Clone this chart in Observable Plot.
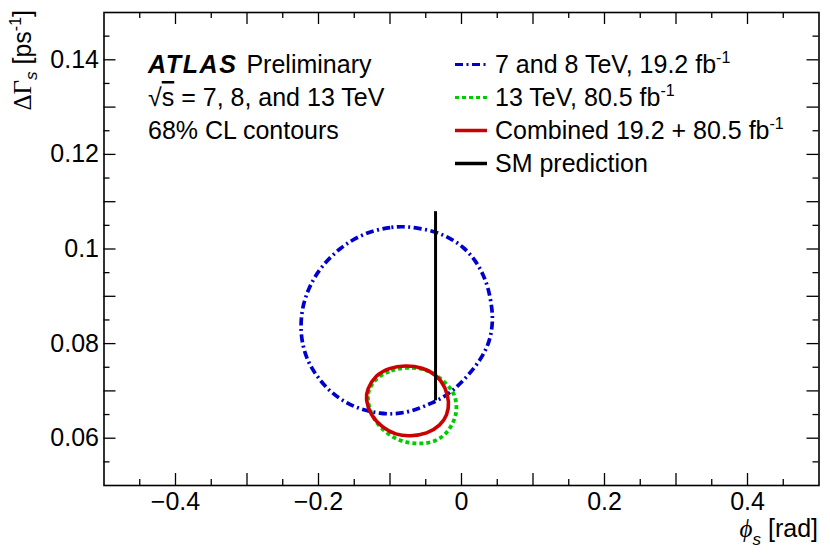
<!DOCTYPE html>
<html>
<head>
<meta charset="utf-8">
<script src="https://cdn.jsdelivr.net/npm/d3@7"></script>
<script src="https://cdn.jsdelivr.net/npm/@observablehq/plot@0.6"></script>
<style>
  body { margin: 0; background: white; }
  #wrap { position: relative; width: 830px; height: 555px; }
  #ann { position: absolute; left: 0; top: 0; pointer-events: none; }
</style>
</head>
<body>
<div id="wrap">
  <div id="chart"></div>
  <svg id="ann" width="830" height="555" font-family="'Liberation Sans', Arial, sans-serif" font-size="25" fill="black">
    <text x="148" y="73"><tspan font-weight="bold" font-style="italic" letter-spacing="1.6">ATLAS</tspan><tspan dx="2"> Preliminary</tspan></text>
    <text x="148" y="106">√<tspan text-decoration="overline">s</tspan> = 7, 8, and 13 TeV</text>
    <text x="148" y="139">68% CL contours</text>
    <g id="legend"></g>
    <text transform="translate(31,10) rotate(-90)" text-anchor="end"><tspan font-family="'Liberation Serif', serif">ΔΓ</tspan><tspan font-size="17" dy="6" font-style="italic">s</tspan><tspan dy="-6"> [ps</tspan><tspan font-size="16" dy="-10">-1</tspan><tspan dy="10">]</tspan></text>
    <text x="818" y="537" text-anchor="end"><tspan font-family="'Liberation Serif', serif" font-style="italic">ϕ</tspan><tspan font-size="17" dy="8" font-style="italic">s</tspan><tspan dy="-8"> [rad]</tspan></text>
  </svg>
</div>
<script>
// ---- Data ----
// 7 and 8 TeV, 19.2 fb-1 contour
const bluePhi = [-0.0807, -0.0993, -0.1203, -0.1413, -0.1692, -0.1972, -0.2136, -0.2228, -0.2252, -0.2228, -0.2158, -0.2018, -0.1832, -0.1599, -0.1366, -0.1133, -0.0951, -0.0759, -0.0594, -0.0434, -0.0200, 0.0032, 0.0266, 0.0406, 0.0438, 0.0427, 0.0385, 0.0312, 0.0196, 0.0032, -0.0168, -0.0387, -0.0601];
const blueDG  = [0.1048, 0.1046, 0.1040, 0.1029, 0.1004, 0.0962, 0.0919, 0.0877, 0.0835, 0.0800, 0.0764, 0.0729, 0.0697, 0.0673, 0.0659, 0.0652, 0.0651, 0.0655, 0.0663, 0.0673, 0.0690, 0.0722, 0.0764, 0.0807, 0.0849, 0.0874, 0.0912, 0.0944, 0.0976, 0.1004, 0.1024, 0.1038, 0.1044];
// 13 TeV, 80.5 fb-1 contour
const greenPhi = [-0.0783, -0.1017, -0.1203, -0.1296, -0.1319, -0.1273, -0.1133, -0.0877, -0.0620, -0.0410, -0.0224, -0.0108, -0.0060, -0.0084, -0.0178, -0.0364, -0.0550];
const greenDG  = [0.0750, 0.0743, 0.0726, 0.0704, 0.0684, 0.0652, 0.0620, 0.0593, 0.0588, 0.0590, 0.0606, 0.0634, 0.0659, 0.0690, 0.0711, 0.0736, 0.0748];
// Combined contour
const redPhi = [-0.1343, -0.1273, -0.1109, -0.0923, -0.0713, -0.0480, -0.0294, -0.0200, -0.0168, -0.0224, -0.0340, -0.0550, -0.0783, -0.1017, -0.1203, -0.1319];
const redDG  = [0.0683, 0.0648, 0.0623, 0.0607, 0.0604, 0.0609, 0.0627, 0.0648, 0.0676, 0.0708, 0.0733, 0.0750, 0.0754, 0.0749, 0.0733, 0.0704];
// SM prediction
const smPhi = [-0.0363, -0.0363];
const smDG  = [0.068, 0.108];

// Axis ticks
const xTicks = [-0.4, -0.2, 0, 0.2, 0.4];
const xMajor = [-0.4, -0.3, -0.2, -0.1, 0, 0.1, 0.2, 0.3, 0.4];
const xMinor = [-0.45, -0.35, -0.25, -0.15, -0.05, 0.05, 0.15, 0.25, 0.35, 0.45];
const yTicks = [0.06, 0.08, 0.1, 0.12, 0.14];
const yMajor = [0.06, 0.07, 0.08, 0.09, 0.1, 0.11, 0.12, 0.13, 0.14];
const yMinor = [0.055, 0.065, 0.075, 0.085, 0.095, 0.105, 0.115, 0.125, 0.135, 0.145];

// Legend
const legendColors = ["#0000cc", "#00cc00", "#cc0000", "#000000"];
const legendDash = ["8,3.5,2,3.5", "4,3", null, null];

const toRows = (xs, ys) => xs.map((x, i) => ({x, y: ys[i]}));
const blue = toRows(bluePhi, blueDG);
const green = toRows(greenPhi, greenDG);
const red = toRows(redPhi, redDG);
const sm = toRows(smPhi, smDG);

const W = 830, H = 555;
const mL = 103.5, mR = 11.5, mT = 12, mB = 70;
const pw = W - mL - mR, ph = H - mT - mB;
const fmt = d3.format("~g");
const majLen = 12, minLen = 6;

const chart = Plot.plot({
  width: W, height: H,
  marginLeft: mL, marginRight: mR, marginTop: mT, marginBottom: mB,
  x: {domain: [-0.5, 0.5]},
  y: {domain: [0.05, 0.15]},
  style: {fontFamily: "'Liberation Sans', Arial, sans-serif", fontSize: "25px", color: "black", background: "white"},
  marks: [
    Plot.axisX(xTicks, {tickSize: 0, tickPadding: 7, tickFormat: fmt, label: null, fontSize: 25}),
    Plot.axisY(yTicks, {tickSize: 0, tickPadding: 5, tickFormat: fmt, label: null, fontSize: 25}),
    // bottom / top ticks
    Plot.tickX(xMajor, {x: d => d, insetTop: ph - majLen, strokeWidth: 1.3}),
    Plot.tickX(xMinor, {x: d => d, insetTop: ph - minLen, strokeWidth: 1.3}),
    Plot.tickX(xMajor, {x: d => d, insetBottom: ph - majLen, strokeWidth: 1.3}),
    Plot.tickX(xMinor, {x: d => d, insetBottom: ph - minLen, strokeWidth: 1.3}),
    // left / right ticks
    Plot.tickY(yMajor, {y: d => d, insetRight: pw - majLen, strokeWidth: 1.3}),
    Plot.tickY(yMinor, {y: d => d, insetRight: pw - minLen, strokeWidth: 1.3}),
    Plot.tickY(yMajor, {y: d => d, insetLeft: pw - majLen, strokeWidth: 1.3}),
    Plot.tickY(yMinor, {y: d => d, insetLeft: pw - minLen, strokeWidth: 1.3}),
    Plot.frame({stroke: "black", strokeWidth: 1.6}),
    // contours
    Plot.line(blue, {x: "x", y: "y", curve: "basis-closed", stroke: legendColors[0], strokeWidth: 3.7, strokeDasharray: legendDash[0], strokeLinecap: "butt"}),
    Plot.line(green, {x: "x", y: "y", curve: "basis-closed", stroke: legendColors[1], strokeWidth: 3.8, strokeDasharray: legendDash[1], strokeLinecap: "butt"}),
    Plot.line(red, {x: "x", y: "y", curve: "basis-closed", stroke: legendColors[2], strokeWidth: 3.6}),
    Plot.line(sm, {x: "x", y: "y", stroke: legendColors[3], strokeWidth: 3, strokeLinecap: "butt"})
  ]
});
document.getElementById("chart").appendChild(chart);

// Legend entries
const lg = d3.select("#legend");
const baselines = [73, 106, 139, 172];
const labels = [
  [["7 and 8 TeV, 19.2 fb", 0], ["-1", 1]],
  [["13 TeV, 80.5 fb", 0], ["-1", 1]],
  [["Combined 19.2 + 80.5 fb", 0], ["-1", 1]],
  [["SM prediction", 0]]
];
labels.forEach((parts, i) => {
  const by = baselines[i];
  lg.append("line").attr("x1", 455).attr("x2", 487).attr("y1", by - 8.5).attr("y2", by - 8.5)
    .attr("stroke", legendColors[i]).attr("stroke-width", i < 2 ? 3 : 3.5)
    .attr("stroke-dasharray", legendDash[i]);
  const t = lg.append("text").attr("x", 495).attr("y", by);
  parts.forEach(([s, sup]) => {
    if (sup) t.append("tspan").attr("font-size", 16).attr("dy", -10).text(s);
    else t.append("tspan").text(s);
  });
});
</script>
</body>
</html>
